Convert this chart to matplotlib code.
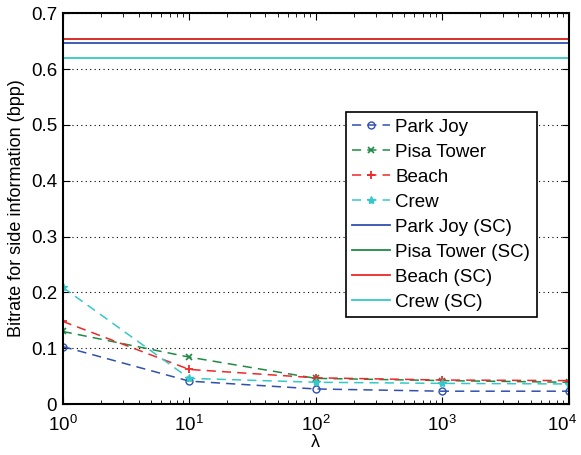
import matplotlib
matplotlib.use("Agg")
import matplotlib.pyplot as plt
from matplotlib.ticker import FixedLocator, FixedFormatter, LogLocator, NullFormatter

plt.rcParams['font.family'] = ['Liberation Sans', 'DejaVu Sans']
plt.rcParams['mathtext.fontset'] = 'custom'
plt.rcParams['mathtext.rm'] = 'Liberation Sans'
plt.rcParams['mathtext.it'] = 'Liberation Sans:italic'

lambdas = [1, 10, 100, 1000, 10000]
x_tick_labels = ['$10^0$', '$10^1$', '$10^2$', '$10^3$', '$10^4$']

park_joy = [0.103, 0.041, 0.027, 0.023, 0.023]
pisa_tower = [0.130, 0.084, 0.046, 0.042, 0.039]
beach = [0.148, 0.062, 0.047, 0.043, 0.042]
crew = [0.209, 0.046, 0.039, 0.037, 0.036]

# single-layer coding (SC) reference rates
sc_names = ['Park Joy (SC)', 'Pisa Tower (SC)', 'Beach (SC)', 'Crew (SC)']
sc_values = [0.646, 0.653, 0.653, 0.620]

blue = '#3050b0'
green = '#208a45'
red = '#ee2828'
cyan = '#35c8c8'

dash = (0, (6, 4))

fig = plt.figure(figsize=(5.81, 4.55), dpi=100)
ax = fig.add_axes([0.108, 0.112, 0.871, 0.859])

ax.plot(lambdas, park_joy, linestyle=dash, color=blue, marker='o', mfc='none', ms=5, lw=1.1, label='Park Joy')
ax.plot(lambdas, pisa_tower, linestyle=dash, color=green, marker='x', ms=4, mew=1.2, lw=1.1, label='Pisa Tower')
ax.plot(lambdas, beach, linestyle=dash, color=red, marker='+', ms=6, mew=1.3, lw=1.1, label='Beach')
ax.plot(lambdas, crew, linestyle=dash, color=cyan, marker='*', ms=6, lw=1.1, label='Crew')

sc_colors = [blue, green, red, cyan]
for i in [1, 0, 2, 3]:
    ax.axhline(sc_values[i], color=sc_colors[i], lw=1.3, label=sc_names[i])

ax.set_xscale('log')
ax.set_xlim(1, 10000)
ax.set_ylim(0, 0.7)
ax.set_yticks([0, 0.1, 0.2, 0.3, 0.4, 0.5, 0.6, 0.7])
ax.set_yticklabels(['0', '0.1', '0.2', '0.3', '0.4', '0.5', '0.6', '0.7'])
# last label is drawn separately, nudged left so it stays inside the image
ax.xaxis.set_major_locator(FixedLocator(lambdas))
ax.xaxis.set_major_formatter(FixedFormatter(x_tick_labels[:-1] + ['']))
ax.xaxis.set_minor_locator(LogLocator(base=10, subs=range(2, 10)))
ax.xaxis.set_minor_formatter(NullFormatter())

ax.yaxis.grid(True, linestyle=(0, (1, 3)), color='black', lw=0.8)
ax.tick_params(which='both', direction='in', top=True, right=True, labelsize=13.5)
ax.tick_params(which='major', length=5)
ax.tick_params(which='minor', length=3)
ax.tick_params(axis='x', pad=8)
ax.tick_params(axis='y', pad=4)
for s in ax.spines.values():
    s.set_linewidth(1.5)

ax.annotate(x_tick_labels[-1], xy=(lambdas[-1], 0), xycoords=('data', 'axes fraction'),
            xytext=(-5, -8), textcoords='offset points', ha='center', va='top',
            fontsize=13.5)

ax.set_xlabel('λ', fontsize=13, labelpad=-1)
ax.set_ylabel('Bitrate for side information (bpp)', fontsize=13, labelpad=4)

handles, labels = ax.get_legend_handles_labels()
want = ['Park Joy', 'Pisa Tower', 'Beach', 'Crew'] + sc_names
hmap = dict(zip(labels, handles))
leg = ax.legend([hmap[k] for k in want], want, loc='upper right',
                bbox_to_anchor=(0.937, 0.747), borderaxespad=0, fontsize=13.5,
                fancybox=False, framealpha=1, edgecolor='black',
                handlelength=2.0, handletextpad=0.3, labelspacing=0.42,
                borderpad=0.35)
leg.get_frame().set_linewidth(1.2)

fig.savefig('out.png', dpi=100)
